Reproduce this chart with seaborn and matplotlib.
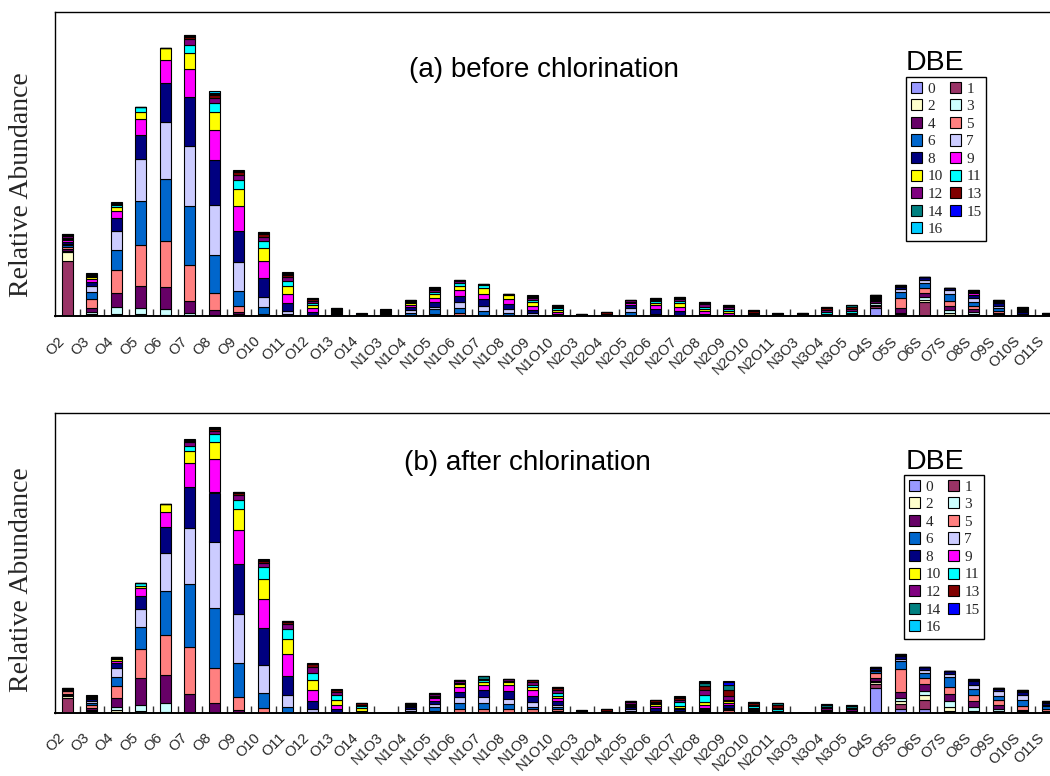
import numpy as np
import pandas as pd
import matplotlib
matplotlib.use("Agg")
import matplotlib.pyplot as plt
from matplotlib.patches import Patch
import seaborn as sns

# ---------------- data ----------------
categories = ["O2", "O3", "O4", "O5", "O6", "O7", "O8", "O9", "O10", "O11", "O12", "O13", "O14",
              "N1O3", "N1O4", "N1O5", "N1O6", "N1O7", "N1O8", "N1O9", "N1O10",
              "N2O3", "N2O4", "N2O5", "N2O6", "N2O7", "N2O8", "N2O9", "N2O10", "N2O11",
              "N3O3", "N3O4", "N3O5",
              "O4S", "O5S", "O6S", "O7S", "O8S", "O9S", "O10S", "O11S"]

dbe_levels = list(range(17))
dbe_colors = ["#9999FF", "#993366", "#FFFFCC", "#CCFFFF", "#660066", "#FF8080",
              "#0066CC", "#CCCCFF", "#000080", "#FF00FF", "#FFFF00", "#00FFFF",
              "#800080", "#800000", "#008080", "#0000FF", "#00CCFF"]

# each row: abundance of DBE 0..16 for one class (relative units)
before_rows = [
    [0, 55, 8.7, 1.5, 2, 2, 1.5, 1.5, 2, 1.5, 1, 1, 2, 1, 0.5, 0.3, 0.2],          # O2
    [0.3, 0.7, 0.7, 2, 4, 9.3, 6.7, 6.7, 4, 2.7, 1.5, 1, 1.2, 0.8, 0.5, 0.3, 0.3],  # O3
    [0.3, 0.3, 1.5, 7, 14, 23.3, 20, 18.3, 13.3, 7, 4, 2.3, 1, 0.5, 0.5, 0.2, 0.2],  # O4
    [0, 0, 2, 5.7, 22.7, 40.7, 44, 41.7, 24.3, 15.7, 7.7, 4.3, 0.3, 0, 0, 0, 0],  # O5
    [0, 0, 1, 5.7, 22.7, 45.7, 61.7, 57.7, 38.3, 23.3, 11.7, 0, 0, 0, 0, 0, 0],   # O6
    [0, 0, 0.5, 2.7, 12.3, 35.3, 59, 60, 49, 28.3, 16, 8.3, 5.7, 2, 1, 0.5, 0.8],  # O7
    [0, 0, 0, 1, 4.7, 17.7, 38, 50, 45, 30, 17.7, 9, 5.3, 2.5, 1.5, 1, 1.7],       # O8
    [0, 0, 1.5, 1, 1.5, 5.7, 15.7, 28.3, 31.7, 25, 16.7, 9.3, 5, 2.5, 1, 0.5, 1],  # O9
    [0, 0, 0, 0, 0, 2, 7.3, 10, 18.3, 17.3, 12.7, 7.7, 4, 3, 1, 0.3, 0.4],         # O10
    [0, 0, 0, 0, 0, 0.5, 1.5, 3, 8.3, 9, 7.7, 4.7, 4.3, 2.5, 1, 0.4, 0.8],         # O11
    [0, 0, 0, 0, 0, 0, 0.5, 1, 3, 3.5, 3, 2.5, 2, 1.2, 0.6, 0.3, 0.6],             # O12
    [0, 0, 0, 0, 0, 0, 0, 0, 2, 1, 1, 1.5, 1, 1, 0.3, 0.1, 0.1],                   # O13
    [0, 0, 0, 0, 0, 0, 0, 0, 0, 0, 0, 0, 1, 1, 0.5, 0.2, 0],                       # O14
    [0, 0, 0, 0, 0, 0, 0, 0, 1, 1, 1, 1, 1, 1, 0.5, 0.5, 0],                       # N1O3
    [0, 0, 0, 0, 0, 1, 2, 3, 3.3, 2, 1.5, 1, 1, 1.5, 0, 0, 0],                     # N1O4
    [0, 0, 0, 0, 0.5, 2, 5, 2, 5, 4, 3.5, 2, 2, 1.5, 0.8, 0.3, 0.4],               # N1O5
    [0, 0, 0, 0, 0.6, 2, 5, 6.7, 6, 5.7, 4.3, 3, 1.5, 1, 0.5, 0, 0],               # N1O6
    [0, 0, 0, 0, 0, 1, 4.5, 5, 6.7, 5, 5.7, 3.3, 0.5, 0.3, 0, 0, 0],               # N1O7
    [0, 0, 0, 0, 0, 0.3, 2.7, 4, 5, 5, 4, 1, 0, 0, 0, 0, 0],                       # N1O8
    [0, 0, 0, 0, 0, 0.5, 1, 1.5, 2.7, 4, 4, 2.3, 1.7, 1.5, 0.5, 0.5, 0.5],         # N1O9
    [0, 0, 0, 0, 0, 0, 0, 0, 2, 2, 2, 2, 1.5, 1, 0.5, 0, 0],                       # N1O10
    [0, 0, 0, 0, 0, 0, 0, 0, 0, 0, 0, 0, 1, 1, 0.3, 0, 0],                         # N2O3
    [0, 0, 0, 0, 0, 0, 0, 0, 0, 0, 0, 1, 1.3, 1.5, 0.5, 0, 0],                     # N2O4
    [0, 0, 0, 0, 0, 0, 4.3, 3.3, 3.3, 2, 0.8, 0.5, 1.5, 0, 0, 0, 0],               # N2O5
    [0, 0, 0, 0, 0, 0, 1, 1.5, 4.3, 4.3, 2.3, 1.5, 1.3, 1, 0.5, 0, 0],             # N2O6
    [0, 0, 0, 0, 0, 0, 0, 1.5, 3.3, 4, 4, 2.5, 1.5, 1, 0.9, 0, 0],                 # N2O7
    [0, 0, 0, 0, 0, 0, 0, 0.5, 2, 3, 2, 2, 2.5, 1.5, 0.8, 0, 0],                   # N2O8
    [0, 0, 0, 0, 0, 0, 0, 0, 1.5, 1.5, 2, 2, 2, 1.5, 0.5, 0, 0],                   # N2O9
    [0, 0, 0, 0, 0, 0, 0, 0, 0, 0, 1, 1, 1.5, 1.5, 1, 0, 0],                       # N2O10
    [0, 0, 0, 0, 0, 0, 0, 0, 0, 0, 0, 0, 1, 1, 0.7, 0, 0],                         # N2O11
    [0, 0, 0, 0, 0, 0, 0, 0, 0, 0, 1, 0, 1, 0.7, 0, 0, 0],                         # N3O3
    [0, 0, 0, 0, 0, 0, 0, 0, 0, 1, 1, 2.5, 2, 1.5, 1, 0, 0],                       # N3O4
    [0, 0, 0, 0, 0, 0, 0, 0, 0, 2, 1.5, 2, 2, 2, 1.5, 0, 0],                       # N3O5
    [7.7, 2.7, 1, 1.5, 2, 1.5, 1, 0.8, 1, 0.5, 0.5, 0.4, 0.5, 0.2, 0, 0, 0],       # O4S
    [0.5, 1.5, 0.7, 0.8, 5, 9.3, 6.7, 2.7, 2.3, 0.5, 0.3, 0.2, 0.5, 0, 0, 0, 0],   # O5S
    [0, 13.7, 2.7, 2.3, 4.3, 5, 5, 2.7, 3.3, 0, 0, 0, 0, 0, 0, 0, 0],              # O6S
    [0.3, 0.6, 2, 2.7, 4.7, 5, 6.7, 3.7, 2.3, 0, 0, 0, 0, 0, 0, 0, 0],             # O7S
    [0.5, 1, 1, 1.2, 3, 3.5, 4.3, 3.3, 3.5, 1.5, 1, 0.7, 1, 0.5, 0, 0, 0],         # O8S
    [0, 1, 0.5, 0.5, 1.5, 2, 2.5, 2, 3, 1, 0.8, 0, 1, 0.5, 0, 0, 0],               # O9S
    [0, 0, 0, 0, 0, 0, 1.5, 1, 1.5, 1, 1, 1, 1, 0.5, 0.5, 0, 0],                   # O10S
    [0, 0, 0, 0, 0, 0, 0, 0, 1, 0, 0.5, 0, 1, 0.8, 0, 0, 0],                       # O11S
]

after_rows = [
    [0, 14.3, 2.3, 0.5, 1.5, 2.7, 0.5, 0.3, 0.8, 0.3, 0.3, 0, 0.5, 0.3, 0, 0, 0],    # O2
    [0.3, 1, 0.5, 0.5, 2.3, 2.7, 2.3, 1.5, 2, 1, 0.7, 0.5, 1, 0.5, 0.2, 0, 0],       # O3
    [0.3, 0.5, 1.5, 3.5, 9, 11.3, 9.7, 8.3, 5, 2.5, 1.7, 0.7, 1, 0.5, 0.3, 0, 0],    # O4
    [0, 0, 1.5, 6, 27.3, 28.3, 22, 18.3, 13, 7.7, 2.7, 3, 0, 0, 0, 0, 0],            # O5
    [0, 0, 0.5, 9.3, 27.7, 40, 44, 38.3, 26, 14.7, 7.7, 0, 0, 0, 0, 0, 0],           # O6
    [0, 0, 0, 0, 18.7, 46.7, 63.3, 55.7, 41, 24, 12.3, 5, 3.3, 1.5, 1, 0.3, 0.5],    # O7
    [0, 0, 0, 0, 9.3, 35, 60, 66.7, 49, 33.3, 17, 8.3, 3.3, 1.5, 1, 0.5, 1],         # O8
    [0, 0, 0, 0, 2.7, 13.3, 33.3, 49.3, 50, 34, 20.7, 9.3, 5, 2, 0.5, 0.3, 0.5],     # O9
    [0, 0, 0, 0, 0, 5, 15, 27.7, 36.7, 29, 20, 11.7, 4.3, 2.5, 0.8, 0.2, 0.5],       # O10
    [0, 0, 0, 0, 0, 0, 6, 11.7, 19, 21.7, 15, 10.3, 4.7, 2.5, 0.6, 0, 0.5],          # O11
    [0, 0, 0, 0, 0, 0, 1, 2.5, 8, 10.7, 10, 7.7, 5.7, 2.5, 0.6, 0.3, 0.5],           # O12
    [0, 0, 0, 0, 0, 0, 0, 0.5, 3, 4.3, 4.3, 5, 3, 2, 0.7, 0, 0.5],                   # O13
    [0, 0, 0, 0, 0, 0, 0, 0, 1, 1, 2.5, 2, 1.5, 1.2, 0.8, 0, 0],                     # O14
    [0, 0, 0, 0, 0, 0, 0, 0, 0, 0, 0, 0, 0, 0, 0, 0, 0],                             # N1O3
    [0, 0, 0, 0, 0, 0, 2, 2, 2, 1, 1, 0, 1, 1, 0, 0, 0],                             # N1O4
    [0, 0, 0, 0, 0.5, 1, 4, 2.7, 3.3, 2.7, 1.3, 1.5, 1.5, 0, 1.2, 0, 0],             # N1O5
    [0, 0, 0, 0, 0.5, 3.3, 5.7, 5.7, 5.3, 5, 3, 1.5, 1.5, 1.5, 0, 0, 0],             # N1O6
    [0, 0, 0, 0, 0.3, 3.3, 5.7, 6.7, 6.7, 5, 3.3, 1.5, 0.8, 0.5, 2.5, 0, 0],         # N1O7
    [0, 0, 0, 0, 0, 3.3, 5, 5.7, 7.3, 6, 3.3, 1, 1.5, 0.7, 0, 0, 0],                 # N1O8
    [0, 0.8, 0, 0, 0, 2.5, 2.3, 5, 6, 5.7, 3, 2.7, 2.7, 1.5, 0.8, 0, 0],             # N1O9
    [0, 0.5, 0, 0, 1, 1.8, 2.5, 1.8, 4, 2.7, 2.2, 3.5, 2.5, 2, 0.7, 0, 0.5],         # N1O10
    [0, 0, 0, 0, 0, 0, 0, 0, 0, 0, 0, 0, 1, 1, 0.3, 0, 0],                           # N2O3
    [0, 0, 0, 0, 0, 0, 0, 0, 0, 0, 0, 0, 2, 1.5, 0.5, 0, 0],                         # N2O4
    [0, 0, 0, 0, 0, 0, 2, 1.5, 2.5, 0.5, 1.5, 1, 1.5, 1.2, 0, 0, 0],                 # N2O5
    [0, 0, 0, 0, 0, 0, 1, 1, 3, 2, 1.5, 1, 1.5, 1.5, 0.5, 0, 0],                     # N2O6
    [0, 0, 0, 0, 0, 0, 0, 2, 1.5, 1.5, 1.5, 4.3, 2, 1.5, 1, 0, 1],                   # N2O7
    [0, 0, 0, 0, 0.5, 0.8, 1, 1, 1.5, 2.5, 3.3, 6.7, 5.7, 4, 2.5, 1.2, 1],           # N2O8
    [0, 0, 0, 0, 0.5, 2, 1.5, 1, 2.5, 2.5, 1.5, 1.5, 4, 6, 5, 2.5, 0.7],             # N2O9
    [0, 0, 0, 0, 0, 0, 1.5, 0, 1.5, 1, 1, 1.5, 1.5, 1.5, 1.2, 0, 0],                 # N2O10
    [0, 0, 0, 0, 0, 0, 0, 0, 0, 1, 1, 1.5, 1.5, 2.5, 2.2, 0, 0],                     # N2O11
    [0, 0, 0, 0, 0, 0, 0, 0, 0, 0, 0, 0, 0, 0, 0, 0, 0],                             # N3O3
    [0, 0, 0, 0, 0, 0, 0, 0, 1, 1, 0, 1, 1.3, 1, 2, 1, 0],                           # N3O4
    [0, 0, 0, 0, 0, 0, 0, 0, 0, 0, 1, 1, 1.5, 1.5, 1.5, 0.8, 0],                     # N3O5
    [24.7, 4.3, 1.5, 1.5, 2.5, 4.7, 2, 1, 2, 0.5, 0.3, 0, 0.5, 0.2, 0, 0, 0],        # O4S
    [3.5, 5, 3.3, 2.7, 5.7, 23.3, 7.7, 2.3, 3, 0.5, 0, 0, 0.8, 0.5, 0, 0, 0],        # O5S
    [4, 8.3, 5, 4.3, 6.7, 6.3, 5, 3.3, 2.7, 0, 0, 0, 0, 0, 0, 0, 0],                 # O6S
    [0.5, 1.5, 4, 6, 6.7, 6.7, 10, 3.3, 3.3, 0, 0, 0, 0, 0, 0, 0, 0],                # O7S
    [0.5, 1, 0.5, 3.3, 6.7, 6, 5.7, 4, 4, 0.5, 0, 0, 0.7, 0.4, 0, 0, 0],             # O8S
    [0.5, 1, 0.5, 1.5, 4.3, 5, 4, 4.3, 2.5, 0.5, 0.4, 0, 0.5, 0, 0, 0, 0],           # O9S
    [0, 1, 0.3, 0.2, 1.5, 3.3, 6.7, 5, 3, 0.5, 0, 0, 1, 0.5, 0, 0, 0],               # O10S
    [0, 1, 0, 0, 1, 1.5, 2.7, 1.5, 1.5, 0.5, 0.5, 0, 1, 0.5, 0, 0, 0],               # O11S
]

panel_titles = ["(a) before chlorination", "(b) after chlorination"]
y_label = "Relative Abundance"
legend_title = "DBE"

# ---------------- styling ----------------
sns.set_theme(style="white")
plt.rcParams["font.family"] = ["Liberation Sans", "DejaVu Sans"]
SERIF = ["Liberation Serif", "DejaVu Serif"]

W, H = 1050, 776
fig = plt.figure(figsize=(W / 100, H / 100), dpi=100)


def px_axes(left, top, right, bottom):
    return fig.add_axes([left / W, 1 - bottom / H, (right - left) / W, (bottom - top) / H])


ax_a = px_axes(55, 12, 1059.5, 316)
ax_b = px_axes(55, 413, 1059.5, 712.5)


def draw_panel(ax, rows, ymax, title, title_xy, dbe_xy, leg_anchor):
    data = np.array(rows, dtype=float)
    bottoms = np.zeros(len(categories))
    for k, level in enumerate(dbe_levels):
        vals = data[:, k]
        df = pd.DataFrame({"cls": categories, "abund": vals})
        sns.barplot(data=df, x="cls", y="abund", order=categories,
                    color=dbe_colors[k], saturation=1, width=0.45,
                    edgecolor="black", linewidth=0.8, errorbar=None,
                    bottom=bottoms, ax=ax)
        bottoms = bottoms + vals

    ax.set_xlim(-0.5, len(categories) - 0.5)
    ax.set_ylim(0, ymax)
    ax.set_xlabel("")
    ax.set_ylabel("")
    ax.set_yticks([])
    ax.set_xticks(range(len(categories)))
    ax.set_xticklabels(categories, rotation=45, ha="right", va="top", fontsize=10.5)
    ax.set_xticks(np.arange(0.5, len(categories) - 1, 1), minor=True)
    ax.tick_params(axis="x", which="major", length=0, pad=13, bottom=False)
    ax.tick_params(axis="x", which="minor", bottom=True, direction="in",
                   length=5, width=1, color="#333333")
    for side in ["left", "top", "bottom"]:
        ax.spines[side].set_visible(True)
        ax.spines[side].set_color("black")
        ax.spines[side].set_linewidth(1.0)
    ax.spines["bottom"].set_linewidth(1.4)
    ax.spines["right"].set_visible(False)

    ax.text(title_xy[0], title_xy[1], title, transform=ax.transAxes,
            ha="center", va="center", fontsize=20, color="black")
    ax.text(dbe_xy[0], dbe_xy[1], legend_title, transform=ax.transAxes,
            ha="center", va="center", fontsize=20.5, color="black")

    order = list(range(0, 17, 2)) + list(range(1, 17, 2))
    handles = [Patch(facecolor=dbe_colors[i], edgecolor="black", linewidth=0.8,
                     label=str(dbe_levels[i])) for i in order]
    leg = ax.legend(handles=handles, ncol=2, loc="upper left",
                    bbox_to_anchor=leg_anchor, frameon=True, fancybox=False,
                    framealpha=1, edgecolor="black", borderpad=0.3,
                    labelspacing=0.24, handlelength=0.75, handleheight=0.75,
                    handletextpad=0.35, columnspacing=0.45, borderaxespad=0,
                    prop={"family": SERIF, "size": 11})
    leg.get_frame().set_linewidth(1.0)


def axfrac(ax_left, ax_top, ax_bottom, x, y, ax_right=1059.5):
    return ((x - ax_left) / (ax_right - ax_left), (ax_bottom - y) / (ax_bottom - ax_top))


draw_panel(ax_a, before_rows, 304, panel_titles[0],
           axfrac(55, 12, 316, 544, 70), axfrac(55, 12, 316, 935, 63),
           axfrac(55, 12, 316, 906, 77))
draw_panel(ax_b, after_rows, 299.5, panel_titles[1],
           axfrac(55, 413, 712.5, 527, 463), axfrac(55, 413, 712.5, 935, 462),
           axfrac(55, 413, 712.5, 904, 475))

fig.text(22 / W, 1 - 185 / H, y_label, rotation=90, ha="center", va="center",
         fontsize=20, family=SERIF)
fig.text(22 / W, 1 - 580 / H, y_label, rotation=90, ha="center", va="center",
         fontsize=20, family=SERIF)

fig.savefig("out.png", dpi=100)
